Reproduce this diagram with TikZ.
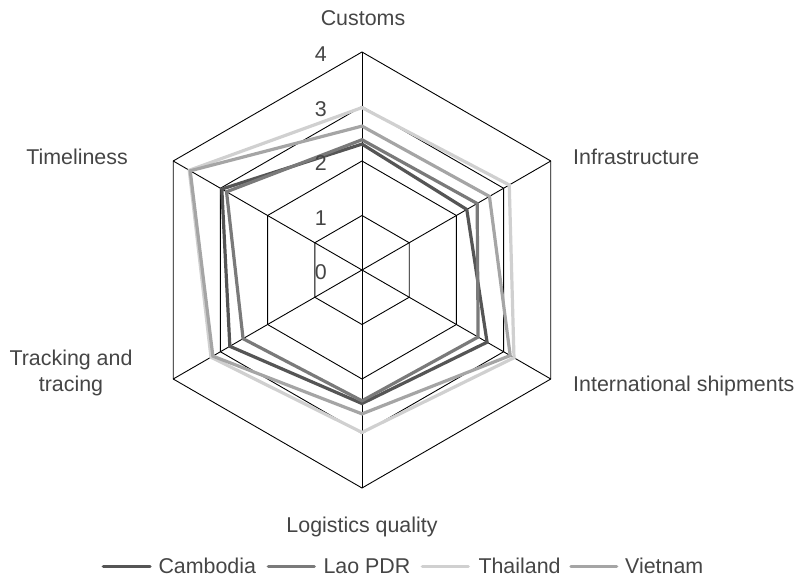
\documentclass[tikz,border=0pt]{standalone}
\usepackage{fontspec}
\setmainfont{Liberation Sans}
\definecolor{txt}{HTML}{454545}
\definecolor{camc}{HTML}{555555}
\definecolor{laoc}{HTML}{7A7A7A}
\definecolor{thac}{HTML}{D0D0D0}
\definecolor{viec}{HTML}{A5A5A5}
\begin{document}
\begin{tikzpicture}[x=1pt,y=1pt,
  gridline/.style={black,line width=0.9pt},
  series/.style={line width=3.2pt,line join=miter},
  lbl/.style={font=\fontsize{21.4}{26}\selectfont,text=txt,inner sep=0pt},
  keyline/.style={line width=3.2pt,line cap=round}]
\useasboundingbox (0,0) rectangle (801,579);
\begin{scope}[shift={(362,309)}]
  \foreach \r in {1,2,3,4}
    \draw[gridline] (90:{\r*54.5}) -- (30:{\r*54.5}) -- (-30:{\r*54.5}) -- (-90:{\r*54.5}) -- (-150:{\r*54.5}) -- (150:{\r*54.5}) -- cycle;
  \foreach \a in {90,30,-30,-90,-150,150}
    \draw[gridline] (0,0) -- (\a:218);
  \draw[series,camc] (90:{2.31*54.5}) -- (30:{2.22*54.5}) -- (-30:{2.65*54.5}) -- (-90:{2.45*54.5}) -- (-150:{2.80*54.5}) -- (150:{2.97*54.5}) -- cycle;
  \draw[series,laoc] (90:{2.39*54.5}) -- (30:{2.44*54.5}) -- (-30:{2.46*54.5}) -- (-90:{2.40*54.5}) -- (-150:{2.52*54.5}) -- (150:{2.87*54.5}) -- cycle;
  \draw[series,thac] (90:{2.98*54.5}) -- (30:{3.12*54.5}) -- (-30:{3.22*54.5}) -- (-90:{2.98*54.5}) -- (-150:{3.20*54.5}) -- (150:{3.66*54.5}) -- cycle;
  \draw[series,viec] (90:{2.64*54.5}) -- (30:{2.70*54.5}) -- (-30:{3.14*54.5}) -- (-90:{2.64*54.5}) -- (-150:{3.16*54.5}) -- (150:{3.64*54.5}) -- cycle;
\end{scope}
% scale labels
\foreach \v in {0,1,2,3,4}
  \node[lbl,anchor=base east] (n\v) at (327,{299+54.5*\v}) {\v};
% axis labels
\node[lbl,anchor=base] (customs) at (363,553) {Customs};
\node[lbl,anchor=base west] (infra) at (573,414) {Infrastructure};
\node[lbl,anchor=base east] (time) at (128,414) {Timeliness};
\node[lbl,anchor=base west] (intl) at (573,187) {International shipments};
\node[lbl,anchor=base,align=center] (track) at (71,187) {Tracking and\\tracing};
\node[lbl,anchor=base] (logq) at (362,47) {Logistics quality};
% legend
\coordinate (k1a) at (103.3,12.3); \coordinate (k1b) at (150.1,12.3);
\coordinate (k2a) at (268.3,12.3); \coordinate (k2b) at (314.4,12.3);
\coordinate (k3a) at (422.3,12.3); \coordinate (k3b) at (468.4,12.3);
\coordinate (k4a) at (570.9,12.3); \coordinate (k4b) at (616.7,12.3);
\draw[keyline,camc] (k1a) -- (k1b);
\draw[keyline,laoc] (k2a) -- (k2b);
\draw[keyline,thac] (k3a) -- (k3b);
\draw[keyline,viec] (k4a) -- (k4b);
\node[lbl,anchor=base west] (l1) at (158.3,5.7) {Cambodia};
\node[lbl,anchor=base west] (l2) at (323.3,5.7) {Lao PDR};
\node[lbl,anchor=base west] (l3) at (478.3,5.7) {Thailand};
\node[lbl,anchor=base west] (l4) at (625,5.7) {Vietnam};
\end{tikzpicture}
\end{document}
